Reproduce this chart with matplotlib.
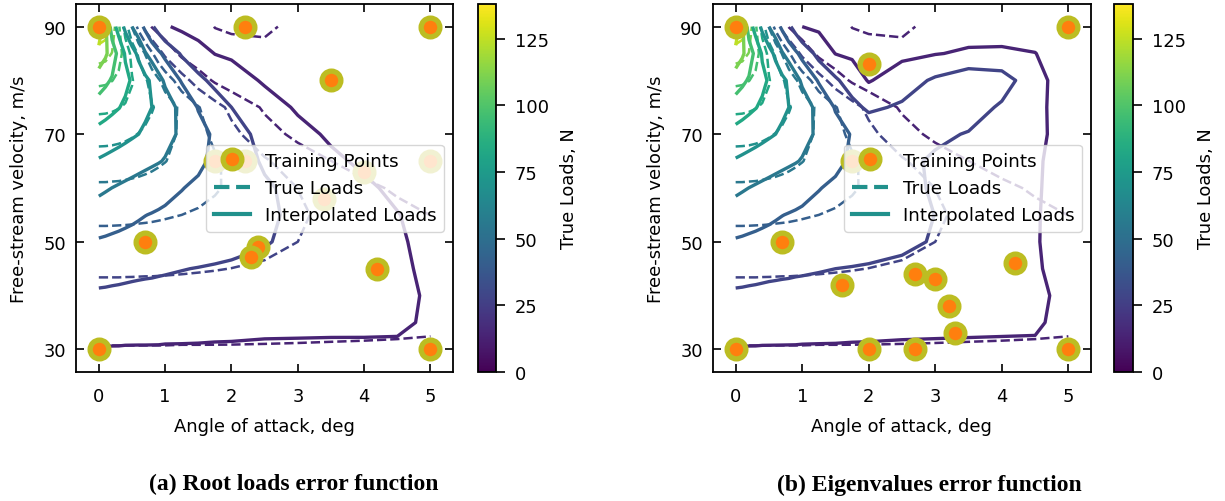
import numpy as np
import matplotlib
matplotlib.use('Agg')
import matplotlib.pyplot as plt
from matplotlib.lines import Line2D
from matplotlib.colors import Normalize
import matplotlib.cm as cm

# grid of angle of attack (deg) and free-stream velocity (m/s)
alpha_grid = [0, 0.1, 0.2, 0.3, 0.4, 0.5, 0.6, 0.7, 0.8, 0.9, 1.0, 1.25, 1.5, 1.75, 2.0, 2.5, 3.0, 3.5, 4.0, 4.5, 5.0]
velocity_grid = [30, 35, 40, 45, 50, 55, 60, 65, 70, 75, 80, 85, 90]

# true loads (N), one row per velocity
true_loads = [
[13.1,13.1,13.1,13.1,13.1,13.1,13.1,13.1,13.1,13.1,13.1,13,13,13,13,12.9,12.8,12.7,12.6,12.5,12.3],
[17.9,17.9,17.9,17.9,17.9,17.9,17.9,17.8,17.8,17.8,17.8,17.7,17.7,17.6,17.5,17.3,17,16.6,16.3,15.9,15.4],
[23.4,23.4,23.4,23.4,23.4,23.3,23.3,23.3,23.3,23.2,23.2,23,22.9,22.7,22.5,22,21.4,20.7,19.9,19.1,18.2],
[29.6,29.6,29.6,29.6,29.5,29.5,29.4,29.3,29.3,29.2,29.1,28.8,28.4,28,27.5,26.4,25.1,23.7,22.1,20.5,18.7],
[36.8,36.8,36.8,36.7,36.6,36.5,36.4,36.2,36.1,35.9,35.6,35,34.3,33.4,32.4,30.2,27.6,24.9,22.1,19.3,16.6],
[44.6,44.6,44.5,44.4,44.3,44.1,43.8,43.6,43.3,42.9,42.5,41.4,40.1,38.6,36.9,33.2,29.1,25,20.9,17.1,13.7],
[53.1,53.1,52.9,52.8,52.5,52.1,51.7,51.2,50.7,50,49.4,47.4,45.1,42.5,39.6,33.6,27.5,21.7,16.5,12.1,8.6],
[62.8,62.7,62.5,62.1,61.6,60.9,60.1,59.1,58,56.8,55.5,51.8,47.6,43.1,38.4,29.1,20.7,13.9,8.8,5.2,2.9],
[74.2,74,73.6,72.8,71.7,70.3,68.6,66.7,64.6,62.3,59.8,52.9,45.6,38.3,31.2,19.2,10.6,5.2,2.3,0.9,0.3],
[85.8,85.5,84.7,83.4,81.6,79.3,76.6,73.5,70.1,66.4,62.6,52.4,42.2,32.6,24.3,11.9,5,1.8,0.5,0.1,0],
[99.6,98.9,96.9,93.6,89.1,83.7,77.6,70.9,63.9,56.8,49.7,33.7,20.9,11.9,6.2,1.3,0.2,0,0,0,0],
[117,115.2,109.9,101.7,91.1,79.2,66.7,54.4,43,33,24.5,10.2,3.5,1,0.2,0,0,0,0,0,0],
[138,133,119,98.9,76.4,54.7,36.4,22.5,12.9,6.9,3.4,0.4,0,14.5,19,23,0,0,0,0,0],
]

# interpolated loads (N) with the root-loads error function
interp_root = [
[13.3,13.3,13.3,13.3,13.2,13.2,13.2,13.2,13.2,13.2,13.1,13.1,13.1,13,13,12.9,12.8,12.6,12.5,12.3,11],
[17.5,17.4,17.3,17.2,17.1,17,16.9,16.9,16.8,16.7,16.6,16.4,16.1,15.9,15.7,15.2,15.2,15.3,15.4,15.4,12.5],
[25.6,25.5,25.3,25.2,25.1,25,24.8,24.7,24.6,24.4,24.3,24,23.6,23.3,23,22,21,20,19,16.5,12.5],
[32.7,32.2,31.6,31.1,30.5,30,29.7,29.4,29.2,28.9,28.6,27.9,27.3,26.7,26.1,25,22.5,20,17.7,15.5,12],
[40.2,39.7,39.1,38.6,38,37.5,37,36.6,36.2,35.7,35.2,34.1,33,31.8,30.7,28.3,25.2,21.9,18.5,15.1,11],
[48.8,47.8,46.7,45.7,44.7,43.7,42.6,41.6,40.9,40.2,39.5,37.8,36.1,34.4,32.7,29.3,25.7,21.8,18,14.2,10],
[58,56.5,55.1,53.8,52.5,51.3,50,48.7,47.5,46.2,44.9,41.8,39.2,36.7,34.1,29.1,24.5,20,15.6,11.6,8],
[67.8,66.5,65.2,63.9,62.6,61.2,59.9,58.6,57.3,56,54.4,49.1,43.9,38.9,34.2,26.1,21,15.8,12,9,6],
[78.5,76.9,75.3,73.8,72.2,70.6,69,66.6,64.2,61.7,59.3,53,46.1,39.3,32.8,23.7,17.1,12.2,9,7,5],
[90.3,88,85.6,83.3,80.5,77.6,74.8,71.9,69,65.3,61.5,51.5,40.6,34.1,27.6,19,12.4,9,7.5,6,4],
[103.5,99.4,95.2,90.6,86,81.4,76.8,72.2,66.8,59.6,53.1,40.2,30.7,24.3,19.4,12.4,9,7.5,6,4.5,3],
[119,112.6,103.8,92.8,81.3,74.1,66,56.2,49.8,43.8,38.1,26,19.2,13.5,12,9,7.5,6,5,4,3],
[136,113.8,89.7,77,65.8,55.2,47.1,38.6,29.4,22.1,15.2,11,8,7.2,6.5,5,4.5,4,3.7,3.3,3],
]

# interpolated loads (N) with the eigenvalues error function
interp_eig = [
[13.3,13.3,13.3,13.3,13.2,13.2,13.2,13.2,13.2,13.2,13.1,13.1,13.1,13,13,12.9,12.8,12.7,12.6,12.5,11],
[17.5,17.4,17.3,17.2,17.2,17.1,17,16.9,16.8,16.7,16.7,16.4,16.2,16,15.8,15.4,15.3,15.2,15.1,15,11],
[25.6,25.5,25.3,25.2,25.1,25,24.8,24.7,24.6,24.4,24.3,24,23.6,23.3,23,22,21,20,19,16,11],
[32.7,32.2,31.6,31.1,30.5,30,29.8,29.5,29.3,29,28.8,28.2,27.6,27.2,26.8,26,24,22,18.5,14.9,10],
[40.2,39.7,39.1,38.6,38,37.5,37,36.6,36.2,35.7,35.2,34.1,33,32.1,31.1,29.2,27,22.9,18.8,14.6,9],
[48.8,47.8,46.7,45.7,44.7,43.7,42.6,41.6,40.9,40.3,39.7,38.2,36.7,35.1,33.6,30.6,27.5,23.2,18.9,14.7,9],
[58,56.5,55.1,53.8,52.5,51.3,50,48.7,47.5,46.2,44.9,41.8,39.5,37.3,35.1,30.7,26.4,22.6,18.8,15,9],
[67.8,66.5,65.2,63.9,62.6,61.2,59.9,58.6,57.3,56,54.4,49.1,43.9,39.8,36.8,30.7,25.8,22.3,18.8,15.3,9],
[78.5,76.9,75.3,73.8,72.2,70.6,69,66.6,64.2,61.7,59.3,53,46.1,40.6,38.1,33,30.1,26.8,21.9,16.6,9],
[90.3,88,85.6,83.3,80.5,77.6,74.8,71.9,69,65.3,61.5,51.5,40.4,31.7,25,29.6,33,34,25.7,16.4,9],
[103.5,99.4,95.2,90.6,86,81.4,76.8,72.2,66.8,59.6,53.1,40.1,29.7,20.7,12.9,20.6,29.8,37,34,18.6,6],
[119,112.6,103.8,92.8,81.3,74.1,66,56.2,49.8,43.8,37.5,23.1,13.5,11.8,10,11,13.2,15.5,16,14.1,6],
[136,113.8,89.7,77,65.8,55.2,47.1,38.8,30.2,21.9,13.8,11.4,9,8.8,8.5,8,8,8,7.5,7,3],
]

contour_levels = [13.8, 27.6, 41.4, 55.2, 69.0, 82.8, 96.6, 110.4, 124.2]
colorbar_ticks = [0, 25, 50, 75, 100, 125]

# training points
train_a_alpha = [0, 2.2, 5, 3.5, 1.75, 2.2, 5, 4.0, 3.4, 0.7, 2.4, 2.3, 4.2, 0, 5]
train_a_vel = [90, 90, 90, 80, 65, 65, 65, 63, 58, 50, 49, 47.2, 45, 30, 30]
train_b_alpha = [0, 5, 2.0, 1.75, 0.7, 1.6, 2.7, 3.0, 3.2, 3.3, 4.2, 0, 2.0, 2.7, 5]
train_b_vel = [90, 90, 83, 65, 50, 42, 44, 43, 38, 33, 46, 30, 30, 30, 30]

legend_labels = ['Training Points', 'True Loads', 'Interpolated Loads']

fig = plt.figure(figsize=(12.25, 5.02), dpi=100)
norm = Normalize(0, 138)
FS = 12.9
AL = np.array(alpha_grid)
VV = np.array(velocity_grid)


def panel(rect, crect, interp, pa, pv, caption, cx):
    ax = fig.add_axes(rect)
    ax.contour(AL, VV, np.array(true_loads), levels=contour_levels, cmap='viridis', norm=norm,
               linestyles='dashed', linewidths=1.8)
    ax.contour(AL, VV, np.array(interp), levels=contour_levels, cmap='viridis', norm=norm,
               linestyles='solid', linewidths=2.4)
    ax.plot(pa, pv, 'o', ms=13.5, mfc='C1', mec='C8', mew=3.8, ls='none', zorder=5)
    ax.set_xlim(-0.345, 5.34)
    ax.set_ylim(25.8, 94.2)
    ax.set_xticks([0, 1, 2, 3, 4, 5])
    ax.set_yticks([30, 50, 70, 90])
    ax.tick_params(direction='in', top=True, right=True, length=6, width=1.2, labelsize=FS, pad=7)
    ax.tick_params(axis='x', pad=11)
    for s in ax.spines.values():
        s.set_linewidth(1.3)
    ax.set_xlabel('Angle of attack, deg', fontsize=FS, labelpad=8.5)
    ax.set_ylabel('Free-stream velocity, m/s', fontsize=FS, labelpad=11)
    c = '#21918c'
    h = [Line2D([], [], marker='o', ms=13.5, mfc='C1', mec='C8', mew=3.8, ls='none'),
         Line2D([], [], color=c, ls='--', lw=3),
         Line2D([], [], color=c, ls='-', lw=3)]
    ax.legend(h, legend_labels, loc='center right', fontsize=13.2)
    cax = fig.add_axes(crect)
    cb = fig.colorbar(cm.ScalarMappable(norm=norm, cmap='viridis'), cax=cax, ticks=colorbar_ticks)
    cb.ax.tick_params(labelsize=FS, length=6.5, width=1.2, pad=7)
    cb.outline.set_linewidth(1.3)
    cb.set_label('True Loads, N', fontsize=FS, labelpad=8)
    fig.text(cx, 0.034, caption, ha='center', va='center', fontsize=17, fontweight='bold',
             family='Liberation Serif')


panel([0.062, 0.257, 0.3078, 0.733], [0.390, 0.257, 0.0149, 0.733], interp_root,
      train_a_alpha, train_a_vel, '(a) Root loads error function', 0.240)
panel([0.5818, 0.257, 0.3088, 0.733], [0.9094, 0.257, 0.0153, 0.733], interp_eig,
      train_b_alpha, train_b_vel, '(b) Eigenvalues error function', 0.759)
fig.savefig('out.png', dpi=100)
